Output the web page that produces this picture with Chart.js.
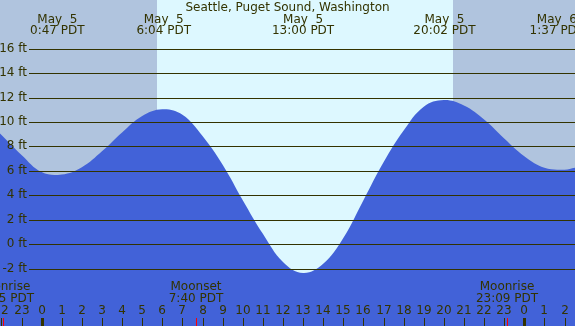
<!DOCTYPE html>
<html>
<head>
<meta charset="utf-8">
<script src="https://cdn.jsdelivr.net/npm/chart.js@4/dist/chart.umd.min.js"></script>
<style>
  html, body { margin: 0; padding: 0; background: #b0c4de; }
  canvas { display: block; }
</style>
</head>
<body>
<canvas id="tide" width="575" height="326"></canvas>
<script>
// tide heights (hours from midnight May 5, feet)
var hours = [-2.07, -1, 0, 1, 2, 3, 4, 5, 6, 7, 8, 9, 10, 11, 12, 13, 14, 15, 16, 17, 18, 19, 20, 21, 22, 23, 24, 25, 26, 26.52];
var tideFt = [9.05, 7.3, 5.9, 5.7, 6.3, 7.6, 9.15, 10.5, 11.05, 10.6, 8.85, 6.5, 3.6, 0.85, -1.45, -2.35, -1.6, 0.5, 3.6, 6.7, 9.3, 11.25, 11.8, 11.35, 10.2, 8.65, 7.2, 6.25, 6.1, 6.25];

// high / low tides
var extremeHours = [0.78, 6.07, 13.0, 20.03, 25.62];
var extremeDays = ['May  5', 'May  5', 'May  5', 'May  5', 'May  6'];
var extremeTimes = ['0:47 PDT', '6:04 PDT', '13:00 PDT', '20:02 PDT', '1:37 PDT'];

// y gridlines
var feetTicks = [-2, 0, 2, 4, 6, 8, 10, 12, 14, 16];

// hour axis
var hourTicks = [-2, -1, 0, 1, 2, 3, 4, 5, 6, 7, 8, 9, 10, 11, 12, 13, 14, 15, 16, 17, 18, 19, 20, 21, 22, 23, 24, 25, 26];
var hourLabels = ['22', '23', '0', '1', '2', '3', '4', '5', '6', '7', '8', '9', '10', '11', '12', '13', '14', '15', '16', '17', '18', '19', '20', '21', '22', '23', '0', '1', '2'];

// moon events
var moonHours = [-1.92, 7.67, 23.15];
var moonNames = ['Moonrise', 'Moonset', 'Moonrise'];
var moonTimes = ['22:05 PDT', '7:40 PDT', '23:09 PDT'];

var sunrise = 5.72;
var sunset = 20.45;

var titulo = 'Seattle, Puget Sound, Washington';
var tinta = '#333300';

var puntos = [];
for (var i = 0; i < hours.length; i++) {
    puntos.push({ x: hours[i], y: tideFt[i] });
}

var fondo = {
    id: 'fondo',
    beforeDraw: function (chart) {
        var ctx = chart.ctx;
        var x = chart.scales.x;
        ctx.save();
        ctx.fillStyle = '#b0c4de';
        ctx.fillRect(0, 0, chart.width, chart.height);
        var a = Math.round(x.getPixelForValue(sunrise));
        var b = Math.round(x.getPixelForValue(sunset));
        ctx.fillStyle = '#ddf8ff';
        ctx.fillRect(a, 0, b - a, chart.height);
        ctx.restore();
    },
    afterDatasetsDraw: function (chart) {
        var ctx = chart.ctx;
        var x = chart.scales.x;
        var y = chart.scales.y;
        ctx.save();
        ctx.font = '12px "DejaVu Sans"';
        ctx.fillStyle = tinta;
        ctx.strokeStyle = tinta;

        // gridlines + ft labels
        ctx.lineWidth = 1;
        ctx.textAlign = 'right';
        ctx.textBaseline = 'middle';
        for (var i = 0; i < feetTicks.length; i++) {
            var py = Math.round(y.getPixelForValue(feetTicks[i])) + 0.5;
            ctx.beginPath();
            ctx.moveTo(29, py);
            ctx.lineTo(chart.width, py);
            ctx.stroke();
            ctx.fillText(feetTicks[i] + ' ft', 27, py - 1);
        }

        // title and tide labels
        ctx.textAlign = 'center';
        ctx.fillText(titulo, chart.width / 2, 8);
        for (var j = 0; j < extremeHours.length; j++) {
            var px = x.getPixelForValue(extremeHours[j]);
            ctx.fillText(extremeDays[j], px, 20);
            ctx.fillText(extremeTimes[j], px, 31);
        }

        // hour labels and ticks
        for (var k = 0; k < hourTicks.length; k++) {
            var hx = Math.round(x.getPixelForValue(hourTicks[k]));
            ctx.fillText(hourLabels[k], hx, 311);
            var medianoche = hourLabels[k] === '0';
            ctx.fillRect(medianoche ? hx - 1 : hx, 318, medianoche ? 3 : 1, 8);
        }

        // moon
        for (var m = 0; m < moonHours.length; m++) {
            var mx = Math.round(x.getPixelForValue(moonHours[m]));
            ctx.fillStyle = tinta;
            ctx.fillText(moonNames[m], mx, 287);
            ctx.fillText(moonTimes[m], mx, 299);
            ctx.fillStyle = '#ff0000';
            ctx.fillRect(mx, 318, 1, 8);
        }
        ctx.restore();
    }
};

var grafico = new Chart(document.getElementById('tide'), {
    type: 'line',
    data: {
        datasets: [{
            data: puntos,
            fill: 'start',
            backgroundColor: '#4262d8',
            borderWidth: 0,
            pointRadius: 0,
            tension: 0.4
        }]
    },
    options: {
        responsive: false,
        animation: false,
        layout: { padding: 0 },
        plugins: {
            legend: { display: false },
            tooltip: { enabled: false }
        },
        scales: {
            x: { type: 'linear', min: -2.07, max: 26.52, display: false },
            y: { type: 'linear', min: -6.69, max: 19.98, display: false }
        }
    },
    plugins: [fondo]
});
</script>
</body>
</html>
